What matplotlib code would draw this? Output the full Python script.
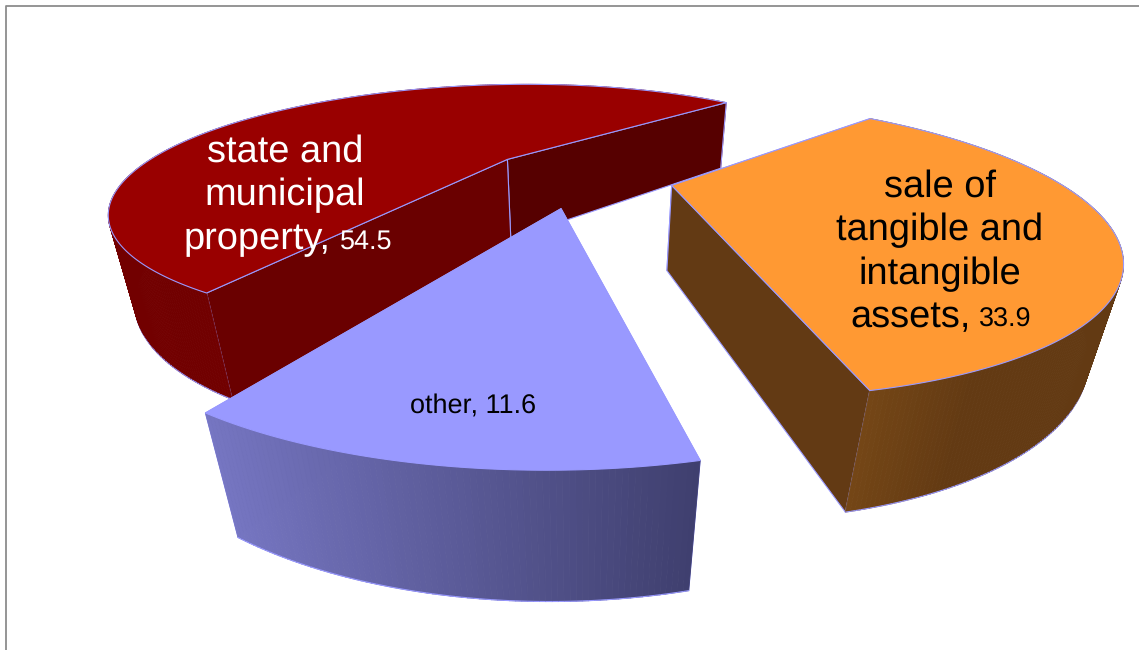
"""Exploded 3D pie drawn with a small pinhole projection on plain matplotlib axes."""

import matplotlib

matplotlib.use("Agg")
import matplotlib.pyplot as plt
import numpy as np
from matplotlib.colors import to_rgb

shares = [54.5, 33.9, 11.6]
label_lines = [
    ["state and", "municipal", "property"],
    ["sale of", "tangible and", "intangible", "assets"],
    ["other"],
]
top_colors = ["#990000", "#ff9933", "#9999ff"]
# cut face colours: (radius at slice start, radius at slice end)
cut_colors = [("#6a0000", "#560000"), ("#633a14", "#633a14"), ("#50508c", "#50508c")]
wall_left = ["#720000", "#744616", "#7676c2"]
wall_right = ["#6c0000", "#633a13", "#3f3f6e"]
# share of the wall width over which the shading ramp runs
wall_ramp = [1.0, 0.4, 1.0]
edge_color = "#9999ff"

# camera and pie geometry, lengths in units of camera height above the top face
FOCAL = 824.0
CX, CY = 578.8, 339.6
ELEV = 0.5027
RADIUS = 1.493
THICK = 0.355
EXPLODE = 0.375
CENTER = (-0.0035, 3.152)
START = 210.0

plt.rcParams["font.family"] = ["Liberation Sans", "DejaVu Sans"]
plt.rcParams["text.hinting"] = "no_hinting"
plt.rcParams["text.hinting_factor"] = 1


def project(x, y, z):
    """Ground point (x, y) at depth z under the top face -> pixel position."""
    h = 1.0 + z
    depth = y * np.cos(ELEV) + h * np.sin(ELEV)
    up = h * np.cos(ELEV) - y * np.sin(ELEV)
    return CX + FOCAL * x / depth, CY + FOCAL * up / depth


def cam_depth(x, y, z):
    return np.mean(y * np.cos(ELEV) + (1.0 + z) * np.sin(ELEV))


def draw_slice(ax, t0, t1, i, z0):
    mid = np.radians((t0 + t1) / 2)
    ox = CENTER[0] + EXPLODE * np.sin(mid)
    oy = CENTER[1] + EXPLODE * np.cos(mid)
    th = np.radians(np.linspace(t0, t1, int(t1 - t0) * 2 + 2))
    xs = ox + RADIUS * np.sin(th)
    ys = oy + RADIUS * np.cos(th)

    bottom_u = project(xs, ys, THICK)[0]
    lo, hi = bottom_u.min(), bottom_u.max()
    c0, c1 = np.array(to_rgb(wall_left[i])), np.array(to_rgb(wall_right[i]))

    faces = []
    for a, b in zip(range(len(th) - 1), range(1, len(th))):
        qx = np.array([xs[a], xs[b], xs[b], xs[a]])
        qy = np.array([ys[a], ys[b], ys[b], ys[a]])
        qz = np.array([0, 0, THICK, THICK])
        frac = ((bottom_u[a] + bottom_u[b]) / 2 - lo) / (hi - lo) / wall_ramp[i]
        color = c0 + (c1 - c0) * min(frac, 1.0)
        faces.append((cam_depth(qx, qy, qz), "wall", qx, qy, qz, color))
    ends = ((xs[0], ys[0], cut_colors[i][0]), (xs[-1], ys[-1], cut_colors[i][1]))
    for ex, ey, color in ends:
        qx = np.array([ox, ex, ex, ox])
        qy = np.array([oy, ey, ey, oy])
        qz = np.array([0, 0, THICK, THICK])
        faces.append((cam_depth(qx, qy, qz), "cut", qx, qy, qz, color))

    # far faces first so the near ones cover them
    z = z0
    for _, kind, qx, qy, qz, color in sorted(faces, key=lambda f: -f[0]):
        u, v = project(qx, qy, qz)
        if kind == "wall":
            ax.fill(u, v, color=color, lw=0.6, zorder=z)
            ax.plot(u[2:], v[2:], color=edge_color, lw=0.8, zorder=z + 0.5)
        else:
            ax.fill(u, v, facecolor=color, edgecolor=edge_color, lw=0.8, zorder=z)
        z += 1

    tx = np.concatenate([[ox], xs])
    ty = np.concatenate([[oy], ys])
    u, v = project(tx, ty, 0.0)
    ax.fill(u, v, facecolor=top_colors[i], edgecolor=edge_color, lw=0.8,
            joinstyle="round", zorder=z)
    return z + 1


def mixed_label(fig, ax, x, y, big, small, big_size, small_size, color, z):
    """Large word and comma, then the value in a smaller size on the same baseline."""
    t = ax.text(x, y, big + ",", fontsize=big_size, color=color, ha="left", va="baseline", zorder=z)
    box = t.get_window_extent(fig.canvas.get_renderer())
    ax.text(box.x1 + 9, y, small, fontsize=small_size, color=color, ha="left", va="baseline", zorder=z)


fig = plt.figure(figsize=(11.39, 6.5), dpi=100, facecolor="white")
ax = fig.add_axes([0, 0, 1, 1])
ax.set_xlim(0, 1139)
ax.set_ylim(650, 0)
ax.axis("off")

# chart area border, only the top and left sides fall inside the frame
ax.plot([6, 6, 1139], [650, 5.5, 5.5], color="#8c8c8c", lw=1.3, zorder=1)

angle = START
z = 2
for i, share in enumerate(shares):
    sweep = share / sum(shares) * 360
    z = draw_slice(ax, angle, angle + sweep, i, z)
    angle += sweep

BIG = 27
SMALL = 19.5

for line, base in zip(label_lines[0][:2], [162, 205]):
    ax.text(285, base, line, fontsize=BIG, color="white", ha="center", va="baseline", zorder=z)
mixed_label(fig, ax, 184, 249, label_lines[0][2], f"{shares[0]}", BIG, SMALL, "white", z)

for line, base in zip(label_lines[1][:3], [197, 240, 284]):
    ax.text(940, base, line, fontsize=BIG, color="black", ha="center", va="baseline", zorder=z)
mixed_label(fig, ax, 850, 327, label_lines[1][3], f"{shares[1]}", BIG, SMALL, "black", z)

ax.text(410, 414, f"{label_lines[2][0]}, {shares[2]}", fontsize=19.6, color="black",
        ha="left", va="baseline", zorder=z)

fig.savefig("out.png", dpi=100)
plt.close(fig)
